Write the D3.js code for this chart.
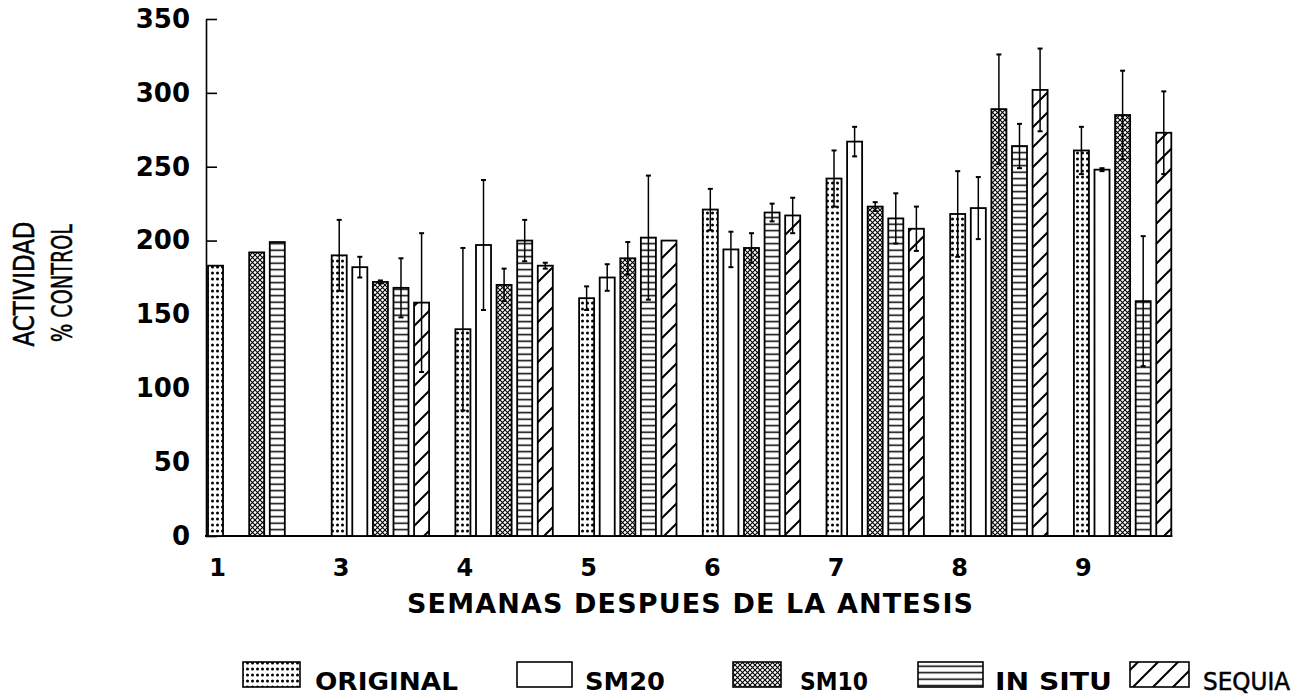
<!DOCTYPE html>
<html>
<head>
<meta charset="utf-8">
<script src="https://cdn.jsdelivr.net/npm/d3@7"></script>
<style>
    body { margin: 0; background: #fff; }
    svg { display: block; }
    .tick text, .xlab, .title, .legendText { font-family: 'DejaVu Sans', sans-serif; font-weight: bold; fill: #000; }
    .narrow { font-family: 'Liberation Sans Narrow', 'DejaVu Sans Condensed', 'Liberation Sans', sans-serif; fill: #000; stroke: #000; stroke-width: 0.5; }
</style>
</head>
<body>
<svg id="mainFrame"></svg>
<script>
// values (% of control), null = no bar
const weeks = ['1', '3', '4', '5', '6', '7', '8', '9']
const series = ['ORIGINAL', 'SM20', 'SM10', 'IN SITU', 'SEQUIA']

const original = [183, 190, 140, 161, 221, 242, 218, 261]
const originalErr = [0, 24, 55, 8, 14, 19, 29, 16]
const sm20 = [null, 182, 197, 175, 194, 267, 222, 248]
const sm20Err = [0, 7, 44, 9, 12, 10, 21, 1]
const sm10 = [192, 172, 170, 188, 195, 223, 289, 285]
const sm10Err = [0, 1, 11, 11, 10, 3, 37, 30]
const inSitu = [199, 168, 200, 202, 219, 215, 264, 159]
const inSituErr = [0, 20, 14, 42, 6, 17, 15, 44]
const sequia = [null, 158, 183, 200, 217, 208, 302, 273]
const sequiaErr = [0, 47, 2, 0, 12, 15, 28, 28]

const yTicks = [0, 50, 100, 150, 200, 250, 300, 350]

const seriesValues = [original, sm20, sm10, inSitu, sequia]
const seriesErrors = [originalErr, sm20Err, sm10Err, inSituErr, sequiaErr]
const patternIds = ['pOriginal', 'pSm20', 'pSm10', 'pInSitu', 'pSequia']

const width = 1297
const height = 699

const svg = d3.select('#mainFrame')
    .attr('width', width)
    .attr('height', height)

svg.append('rect')
    .attr('width', width)
    .attr('height', height)
    .attr('fill', '#fff')

/**
 * Fill patterns for the five treatments
 */
const defs = svg.append('defs')

const pOrig = defs.append('pattern')
    .attr('id', 'pOriginal')
    .attr('patternUnits', 'userSpaceOnUse')
    .attr('width', 5)
    .attr('height', 6)
pOrig.append('rect').attr('width', 5).attr('height', 6).attr('fill', '#fff')
pOrig.append('circle').attr('cx', 2.5).attr('cy', 3).attr('r', 1.5).attr('fill', '#000')

defs.append('pattern')
    .attr('id', 'pSm20')
    .attr('patternUnits', 'userSpaceOnUse')
    .attr('width', 4)
    .attr('height', 4)
    .append('rect').attr('width', 4).attr('height', 4).attr('fill', '#fff')

const pSm10 = defs.append('pattern')
    .attr('id', 'pSm10')
    .attr('patternUnits', 'userSpaceOnUse')
    .attr('width', 5)
    .attr('height', 5)
pSm10.append('rect').attr('width', 5).attr('height', 5).attr('fill', '#fff')
pSm10.append('path')
    .attr('d', 'M0,0L5,5M5,0L0,5')
    .attr('stroke', '#000')
    .attr('stroke-width', 1.1)

const pIn = defs.append('pattern')
    .attr('id', 'pInSitu')
    .attr('patternUnits', 'userSpaceOnUse')
    .attr('width', 10)
    .attr('height', 6.5)
pIn.append('rect').attr('width', 10).attr('height', 6.5).attr('fill', '#fff')
pIn.append('line')
    .attr('x1', 0).attr('x2', 10).attr('y1', 3.2).attr('y2', 3.2)
    .attr('stroke', '#000')
    .attr('stroke-width', 1.5)

const pSeq = defs.append('pattern')
    .attr('id', 'pSequia')
    .attr('patternUnits', 'userSpaceOnUse')
    .attr('width', 20)
    .attr('height', 20)
pSeq.append('rect').attr('width', 20).attr('height', 20).attr('fill', '#fff')
pSeq.append('path')
    .attr('d', 'M0,20L20,0M-5,5L5,-5M15,25L25,15')
    .attr('stroke', '#000')
    .attr('stroke-width', 2)

/**
 * Scales
 */
const yScale = d3.scaleLinear()
    .domain([0, 350])
    .range([536, 19])

const xGroup = d3.scaleBand()
    .domain(weeks)
    .range([208, 208 + 8 * 123.7])

const xSeries = d3.scaleBand()
    .domain(series)
    .range([0, 97.4])
    .paddingInner(0.27)

const bw = xSeries.bandwidth()

/**
 * Axes
 */
const yAxis = d3.axisLeft(yScale)
    .tickValues(yTicks)
    .tickSize(-11)
    .tickSizeOuter(0)
    .tickPadding(16)

svg.append('g')
    .attr('transform', 'translate(206,0)')
    .call(yAxis)
    .call(g => g.select('.domain').attr('stroke-width', 1.6))
    .call(g => g.selectAll('.tick line').attr('stroke-width', 1.6))
    .call(g => g.selectAll('.tick text').attr('font-size', 26))

const lastX = xGroup(weeks[weeks.length - 1]) + xSeries('SEQUIA') + bw + 1

svg.append('line')
    .attr('x1', 205)
    .attr('x2', lastX)
    .attr('y1', yScale(0))
    .attr('y2', yScale(0))
    .attr('stroke', '#000')
    .attr('stroke-width', 2)

svg.append('g').selectAll('text')
    .data(weeks)
    .join('text')
    .attr('class', 'xlab')
    .attr('x', d => xGroup(d) + xSeries('ORIGINAL') + bw / 2 + 2)
    .attr('y', 576)
    .attr('text-anchor', 'middle')
    .attr('font-size', 24)
    .text(d => d)

svg.append('text')
    .attr('class', 'title')
    .attr('x', 690)
    .attr('y', 613)
    .attr('text-anchor', 'middle')
    .attr('font-size', 27)
    .attr('textLength', 566)
    .attr('lengthAdjust', 'spacing')
    .text('SEMANAS DESPUES DE LA ANTESIS')

svg.append('text')
    .attr('class', 'narrow')
    .attr('transform', 'translate(34,284) rotate(-90)')
    .attr('text-anchor', 'middle')
    .attr('font-size', 28)
    .attr('textLength', 125)
    .attr('lengthAdjust', 'spacingAndGlyphs')
    .text('ACTIVIDAD')

svg.append('text')
    .attr('class', 'narrow')
    .attr('transform', 'translate(72,283) rotate(-90)')
    .attr('text-anchor', 'middle')
    .attr('font-size', 28)
    .attr('textLength', 118)
    .attr('lengthAdjust', 'spacingAndGlyphs')
    .text('% CONTROL')

/**
 * Bars and error bars
 */
const barData = []
weeks.forEach((w, i) => {
    series.forEach((s, j) => {
        const v = seriesValues[j][i]
        if (v !== null) barData.push({ week: w, series: s, value: v, err: seriesErrors[j][i], pat: patternIds[j] })
    })
})

const barGroup = svg.append('g')

barGroup.selectAll('rect')
    .data(barData)
    .join('rect')
    .attr('x', d => xGroup(d.week) + xSeries(d.series))
    .attr('y', d => yScale(d.value))
    .attr('width', bw)
    .attr('height', d => yScale(0) - yScale(d.value))
    .attr('fill', d => `url(#${d.pat})`)
    .attr('stroke', '#000')
    .attr('stroke-width', 1.8)

const errGroup = svg.append('g')
    .attr('stroke', '#000')
    .attr('stroke-width', 1.5)

const withErr = barData.filter(d => d.err > 0)
const cx = d => xGroup(d.week) + xSeries(d.series) + bw / 2

errGroup.selectAll('line.err')
    .data(withErr)
    .join('line')
    .attr('class', 'err')
    .attr('x1', cx)
    .attr('x2', cx)
    .attr('y1', d => yScale(d.value + d.err))
    .attr('y2', d => yScale(d.value - d.err))

errGroup.selectAll('line.capTop')
    .data(withErr)
    .join('line')
    .attr('class', 'capTop')
    .attr('x1', d => cx(d) - 2.5)
    .attr('x2', d => cx(d) + 2.5)
    .attr('y1', d => yScale(d.value + d.err))
    .attr('y2', d => yScale(d.value + d.err))
    .attr('stroke-width', 2)

errGroup.selectAll('line.capBot')
    .data(withErr)
    .join('line')
    .attr('class', 'capBot')
    .attr('x1', d => cx(d) - 2.5)
    .attr('x2', d => cx(d) + 2.5)
    .attr('y1', d => yScale(d.value - d.err))
    .attr('y2', d => yScale(d.value - d.err))
    .attr('stroke-width', 2)

/**
 * Legend
 */
const legendBoxX = [243, 517, 733, 918, 1130]
const legendBoxW = [57, 55, 48, 65, 59]
const legendTextX = [315, 585, 800, 995, 1203]

const legend = svg.append('g')

legend.selectAll('rect')
    .data(series)
    .join('rect')
    .attr('x', (d, i) => legendBoxX[i])
    .attr('y', 662)
    .attr('width', (d, i) => legendBoxW[i])
    .attr('height', 25)
    .attr('fill', (d, i) => `url(#${patternIds[i]})`)
    .attr('stroke', '#000')
    .attr('stroke-width', 1.6)

legend.selectAll('text')
    .data(series)
    .join('text')
    .attr('class', (d, i) => i === 4 ? 'narrow' : 'legendText')
    .attr('x', (d, i) => legendTextX[i])
    .attr('y', 690)
    .attr('font-size', 25)
    .attr('textLength', (d, i) => [143, 80, 68, 117, 87][i])
    .attr('lengthAdjust', 'spacingAndGlyphs')
    .text(d => d)
</script>
</body>
</html>
